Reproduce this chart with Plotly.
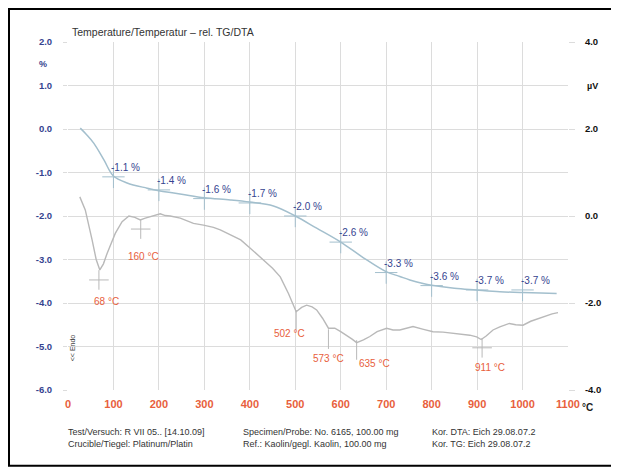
import plotly.graph_objects as go

# ---------------- data ----------------
tg_temp = [27, 40, 57, 79, 100, 130, 174, 200, 250, 300, 357, 400, 452, 500, 547,
           600, 650, 700, 730, 752, 781, 800, 850, 898, 950, 1000, 1040, 1075]
tg_pct = [0.02, -0.12, -0.33, -0.71, -1.08, -1.24, -1.36, -1.42, -1.50, -1.58, -1.63,
          -1.68, -1.77, -2.0, -2.28, -2.6, -2.96, -3.28, -3.39, -3.47, -3.55, -3.59,
          -3.66, -3.7, -3.74, -3.76, -3.77, -3.78]

tg_step_temp = [100, 200, 300, 400, 500, 600, 700, 800, 900, 1000]
tg_step_val = [-1.1, -1.4, -1.6, -1.7, -2.0, -2.6, -3.3, -3.6, -3.7, -3.7]
tg_step_text = ["-1.1 %", "-1.4 %", "-1.6 %", "-1.7 %", "-2.0 %", "-2.6 %",
                "-3.3 %", "-3.6 %", "-3.7 %", "-3.7 %"]

dta_temp = [26, 38, 53, 62, 70, 78, 86, 104, 119, 134, 147, 159, 170, 181, 192, 203,
            214, 225, 247, 265, 276, 298, 320, 335, 357, 380, 401, 430, 450, 467, 485,
            502, 514, 525, 537, 547, 560, 573, 587, 600, 613, 625, 635, 650, 664, 680,
            701, 715, 730, 745, 759, 780, 803, 825, 847, 865, 884, 899, 909, 920, 935,
            950, 971, 985, 1001, 1018, 1037, 1055, 1065, 1078]
dta_uv = [0.44, 0.14, -0.55, -1.0, -1.24, -1.1, -0.86, -0.40, -0.13, 0.0, -0.03, -0.09,
          -0.05, -0.02, 0.02, 0.05, 0.01, 0.0, -0.05, -0.12, -0.17, -0.21, -0.26, -0.32,
          -0.44, -0.55, -0.74, -1.01, -1.2, -1.40, -1.78, -2.20, -2.10, -2.05, -2.09,
          -2.16, -2.35, -2.58, -2.58, -2.66, -2.74, -2.83, -2.91, -2.85, -2.77, -2.66,
          -2.58, -2.62, -2.62, -2.57, -2.54, -2.60, -2.66, -2.67, -2.70, -2.72, -2.74,
          -2.78, -2.84, -2.76, -2.62, -2.55, -2.47, -2.50, -2.51, -2.42, -2.35, -2.30,
          -2.25, -2.22]

peak_temp = [68, 160, 502, 573, 635, 911]
peak_uv = [-1.47, -0.30, -2.39, -2.83, -3.08, -3.03]
peak_text = ["68 °C", "160 °C", "502 °C", "573 °C", "635 °C", "911 °C"]

x_ticks = [0, 100, 200, 300, 400, 500, 600, 700, 800, 900, 1000, 1100]
left_ticks = [2, 1, 0, -1, -2, -3, -4, -5, -6]
right_ticks = [4, 2, 0, -2, -4]

# ---------------- styling ----------------
TG_COLOR = "#a3bfcd"
DTA_COLOR = "#b9b9b9"
NAVY = "#34438f"
ORANGE = "#e8603c"
GRID = "#dcdcdc"
FONT = "Liberation Sans"

peak_symbols = ["cross-thin-open", "cross-thin-open", "line-ns-open",
                "line-ns-open", "line-ns-open", "cross-thin-open"]
peak_xshift = [8, 3, -7, 0, 18, 8]
peak_yshift = [-22, -27, -14, -19, -14, -20]

fig = go.Figure()

fig.add_trace(go.Scatter(x=dta_temp, y=dta_uv, mode="lines", yaxis="y2",
                         line=dict(color=DTA_COLOR, width=1.4), hoverinfo="skip"))
fig.add_trace(go.Scatter(x=tg_temp, y=tg_pct, mode="lines",
                         line=dict(color=TG_COLOR, width=1.5), line_shape="spline",
                         hoverinfo="skip"))
fig.add_trace(go.Scatter(x=tg_step_temp, y=tg_step_val, mode="markers",
                         marker=dict(symbol="cross-thin-open", size=16, color=TG_COLOR,
                                     line=dict(color=TG_COLOR, width=1))))
fig.add_trace(go.Scatter(x=peak_temp, y=peak_uv, mode="markers", yaxis="y2",
                         marker=dict(symbol=peak_symbols, size=14, color=DTA_COLOR,
                                     line=dict(color=DTA_COLOR, width=1))))

ann = []
for t, v, s in zip(tg_step_temp, tg_step_val, tg_step_text):
    ann.append(dict(x=t, y=v, xref="x", yref="y", text=s, showarrow=False,
                    xanchor="left", yanchor="bottom", xshift=-4, yshift=2,
                    font=dict(family=FONT, size=10, color=NAVY)))
for t, v, s, dx, dy in zip(peak_temp, peak_uv, peak_text, peak_xshift, peak_yshift):
    ann.append(dict(x=t, y=v, xref="x", yref="y2", text=s, showarrow=False,
                    xanchor="center", yanchor="middle", xshift=dx, yshift=dy,
                    font=dict(family=FONT, size=10, color=ORANGE)))

# axis unit labels
ann.append(dict(x=0, y=1.5, xref="paper", yref="y", text="<b>%</b>", showarrow=False,
                xanchor="center", xshift=-25, font=dict(family=FONT, size=9, color=NAVY)))
ann.append(dict(x=1, y=3, xref="paper", yref="y2", text="<b>µV</b>", showarrow=False,
                xanchor="left", xshift=17, font=dict(family=FONT, size=9, color="#111")))
ann.append(dict(x=1, y=0, xref="paper", yref="paper", text="<b>°C</b>", showarrow=False,
                xanchor="left", yanchor="top", xshift=12, yshift=-10,
                font=dict(family=FONT, size=10, color="#222")))
ann.append(dict(x=0, y=0.12, xref="paper", yref="paper", text="<< Endo", showarrow=False,
                textangle=-90, xanchor="center", yanchor="middle", xshift=4,
                font=dict(family=FONT, size=7, color="#444")))
# title
ann.append(dict(x=0, y=1, xref="paper", yref="paper",
                text="Temperature/Temperatur – rel. TG/DTA", showarrow=False,
                xanchor="left", yanchor="bottom", xshift=2, yshift=2,
                font=dict(family=FONT, size=10.5, color="#333")))
# footer
footer = [
    (-0.004, "Test/Versuch: R VII 05.. [14.10.09]<br>Crucible/Tiegel: Platinum/Platin"),
    (0.346, "Specimen/Probe: No. 6165, 100.00 mg<br>Ref.: Kaolin/gegl. Kaolin, 100.00 mg"),
    (0.724, "Kor. DTA: Eich 29.08.07.2<br>Kor. TG: Eich 29.08.07.2"),
]
for xp, s in footer:
    ann.append(dict(x=xp, y=-0.1, xref="paper", yref="paper", text=s, showarrow=False,
                    xanchor="left", yanchor="top", align="left",
                    font=dict(family=FONT, size=9, color="#333")))

# page body has an 8px margin, so the figure is sized to fit the window
fig.update_layout(
    width=611, height=464,
    margin=dict(l=60, r=51, t=34, b=82),
    paper_bgcolor="white", plot_bgcolor="white",
    showlegend=False,
    annotations=ann,
    xaxis=dict(range=[0, 1100], tickvals=x_ticks, ticktext=[str(v) for v in x_ticks],
               showgrid=True, gridcolor=GRID, gridwidth=1, zeroline=False,
               showline=False, ticks="", ticklabelstandoff=6,
               tickfont=dict(family=FONT, size=11, color=ORANGE, weight="bold")),
    yaxis=dict(range=[-6, 2], tickvals=left_ticks,
               ticktext=[f"{v:.1f}" for v in left_ticks],
               showgrid=True, gridcolor=GRID, gridwidth=1, zeroline=False,
               showline=False, ticks="outside", ticklen=4, tickcolor=GRID,
               ticklabelstandoff=9,
               tickfont=dict(family=FONT, size=9.5, color=NAVY, weight="bold")),
    yaxis2=dict(range=[-4, 4], tickvals=right_ticks,
                ticktext=[f"{v:.1f}" for v in right_ticks],
                overlaying="y", side="right", showgrid=False, zeroline=False,
                showline=False, ticks="outside", ticklen=6, tickcolor=GRID,
                ticklabelstandoff=8,
                tickfont=dict(family=FONT, size=9.5, color="#111", weight="bold")),
    shapes=[dict(type="rect", xref="paper", yref="paper",
                 x0=-0.118, x1=1.09, y0=-0.218, y1=1.095,
                 line=dict(color="black", width=2), fillcolor="rgba(0,0,0,0)")],
)

fig.write_html("out.html")
